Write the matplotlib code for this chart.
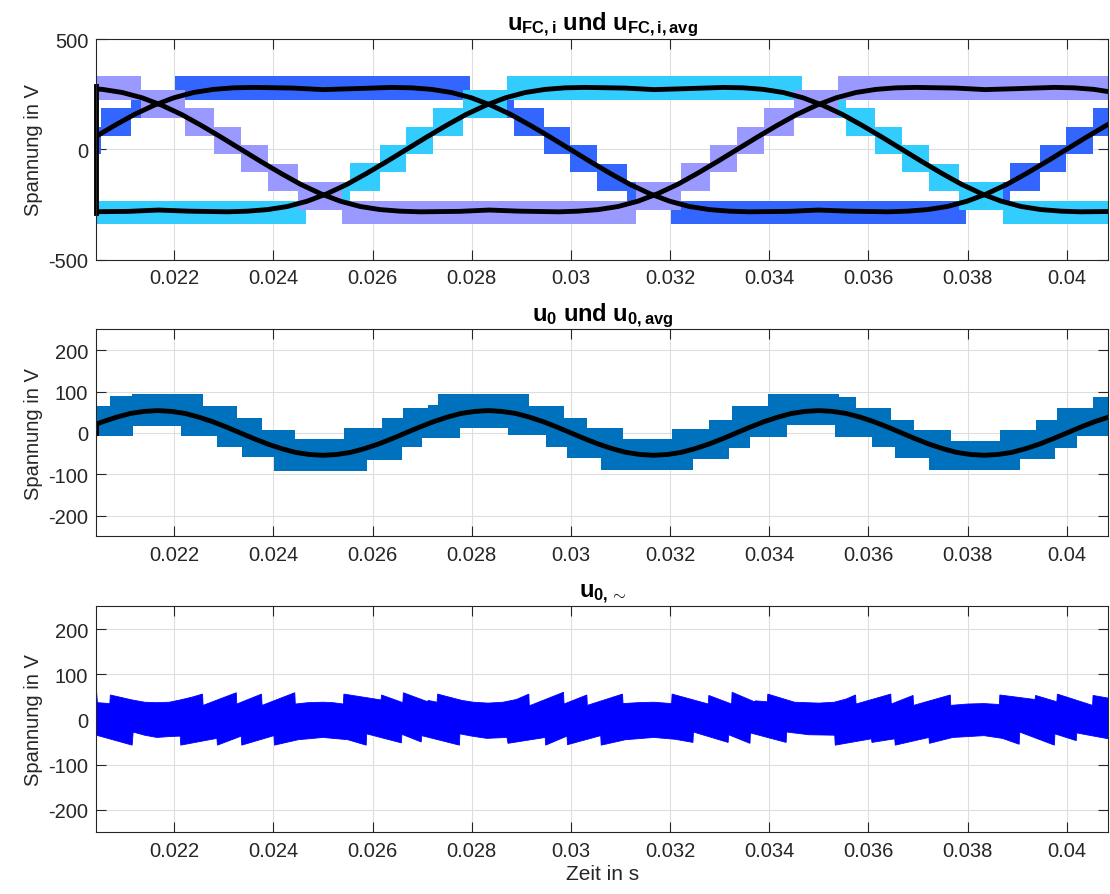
import numpy as np
import matplotlib
matplotlib.use('Agg')
import matplotlib.pyplot as plt
from matplotlib import font_manager


# ---------------- data ----------------

# visible time window and x ticks
t_view = [0.02043, 0.04084]
x_ticks = [0.022, 0.024, 0.026, 0.028, 0.030, 0.032, 0.034, 0.036, 0.038, 0.040]

# flying capacitor voltages: one 50 Hz period of the switched band,
# times relative to the rising zero crossing of each phase
fc_period = 0.02
fc_rise = [0.01999, 0.02668, 0.03335]
fc_colors = ['#3366FF', '#33CCFF', '#9999FF']
fc_edges = [-0.00203, -0.00114, -0.00054, 0.0, 0.00054, 0.00114, 0.00203,
            0.00797, 0.00886, 0.00946, 0.01, 0.01054, 0.01114, 0.01203, 0.01797]
fc_lo = [-272, -187, -103, -22, 63, 143, 224, 143, 63, -22, -102, -190, -272, -336]
fc_hi = [-148, -63, 21, 102, 187, 267, 332, 267, 187, 102, 22, -66, -148, -232]

# averaged capacitor voltage over one period (relative to rising zero crossing)
fc_avg_t = [0, .0004, .0008, .0012, .0016, .0020, .0024, .0028, .0032, .0036,
            .0044, .0050, .0056, .0064, .0068, .0072, .0076, .0080, .0084, .0088,
            .0092, .0096, .0100, .0104, .0108, .0112, .0116, .0120, .0124, .0128,
            .0132, .0136, .0144, .0150, .0156, .0164, .0168, .0172, .0176, .0180,
            .0184, .0188, .0192, .0196, .0200]
fc_avg_v = [0, 55, 108, 158, 200, 234, 258, 272, 279, 281,
            278, 271, 275, 281, 279, 272, 258, 234, 200, 158,
            108, 55, 0, -55, -108, -158, -200, -234, -258, -272,
            -279, -282, -280, -274, -279, -282, -279, -272, -258, -234,
            -200, -158, -108, -55, 0]
fc_avg_init = [286, -286]

# u0 switched band: upper and lower envelope (step values)
u0_up_t = [0.02043, 0.02071, 0.02115, 0.02258, 0.02326, 0.02377, 0.02444, 0.02542,
           0.02618, 0.02662, 0.02712, 0.02731, 0.02916, 0.02986, 0.03033, 0.03105,
           0.03204, 0.03278, 0.03325, 0.03397, 0.03541, 0.03575, 0.03646, 0.03691,
           0.03766, 0.03865, 0.03937, 0.03981, 0.04053]
u0_up_v = [66, 89, 94, 64, 36, 8, -14, 11,
           35, 60, 68, 93, 64, 35, 11, -14,
           10, 32, 64, 94, 88, 60, 32, 7,
           -20, 7, 32, 60, 86]
u0_lo_t = [0.02043, 0.02117, 0.02213, 0.02287, 0.02336, 0.02402, 0.02588, 0.02659,
           0.02699, 0.02776, 0.02873, 0.02949, 0.02993, 0.03061, 0.03247, 0.03318,
           0.03362, 0.03435, 0.03533, 0.03607, 0.03654, 0.03723, 0.03905, 0.03976,
           0.04020]
u0_lo_v = [-8, 16, -8, -35, -59, -93, -65, -35,
           -12, 12, -5, -35, -60, -89, -62, -36,
           -10, 18, -10, -35, -60, -89, -62, -36,
           -8]

# u0 average (150 Hz), one period sampled in 24 steps
u0_period = 0.006667
u0_rise = 0.02000
u0_avg_v = [0, 14, 27, 38, 47, 52, 54, 52, 47, 38, 27, 14,
            0, -14, -27, -38, -47, -52, -54, -52, -47, -38, -27, -14, 0]
u0_avg_init = [0, 21]

# ripple u0,~ : upper and lower envelope
u0ac_up_t = [0.02043, 0.02045, 0.02070, 0.02071, 0.02115, 0.02140, 0.02165, 0.02190, 0.02212, 0.02235,
             0.02257, 0.02258, 0.02325, 0.02326, 0.02376, 0.02377, 0.02443, 0.02444, 0.02470, 0.02500,
             0.02520, 0.02541, 0.02542, 0.02617, 0.02618, 0.02661, 0.02662, 0.02711, 0.02712, 0.02730,
             0.02731, 0.02780, 0.02803, 0.02833, 0.02863, 0.02890, 0.02915, 0.02916, 0.02985, 0.02986,
             0.03032, 0.03033, 0.03104, 0.03105, 0.03135, 0.03167, 0.03203, 0.03204, 0.03277, 0.03278,
             0.03324, 0.03325, 0.03370, 0.03372, 0.03396, 0.03397, 0.03451, 0.03500, 0.03531, 0.03555,
             0.03574, 0.03575, 0.03645, 0.03646, 0.03690, 0.03691, 0.03765, 0.03766, 0.03800, 0.03833,
             0.03864, 0.03865, 0.03936, 0.03937, 0.03980, 0.03981, 0.04052, 0.04053, 0.04084]
u0ac_up_v = [64, 37, 35, 54, 43, 38, 37, 38, 43, 49,
             56, 31, 59, 34, 56, 31, 59, 34, 37, 38,
             37, 34, 56, 43, 54, 37, 59, 39, 42, 38,
             56, 42, 38, 36, 38, 44, 56, 30, 60, 34,
             54, 31, 56, 35, 37, 38, 35, 56, 34, 53,
             34, 60, 39, 41, 39, 56, 38, 36, 38, 45,
             54, 34, 56, 34, 53, 31, 54, 31, 34, 35,
             33, 54, 44, 53, 39, 56, 31, 53, 47]
u0ac_lo_t = [0.02043, 0.02115, 0.02117, 0.02140, 0.02165, 0.02190, 0.02212, 0.02213, 0.02286, 0.02287,
             0.02335, 0.02336, 0.02401, 0.02402, 0.02450, 0.02500, 0.02550, 0.02587, 0.02588, 0.02658,
             0.02659, 0.02698, 0.02699, 0.02775, 0.02776, 0.02800, 0.02830, 0.02871, 0.02873, 0.02948,
             0.02949, 0.02992, 0.02993, 0.03060, 0.03061, 0.03110, 0.03167, 0.03210, 0.03246, 0.03247,
             0.03317, 0.03318, 0.03361, 0.03362, 0.03434, 0.03435, 0.03480, 0.03532, 0.03533, 0.03606,
             0.03607, 0.03653, 0.03654, 0.03722, 0.03723, 0.03770, 0.03833, 0.03870, 0.03904, 0.03905,
             0.03975, 0.03976, 0.04019, 0.04020, 0.04084]
u0ac_lo_v = [-35, -57, -28, -35, -40, -38, -37, -57, -42, -57,
             -37, -57, -36, -57, -45, -40, -45, -57, -32, -52,
             -33, -50, -36, -57, -32, -37, -42, -40, -53, -40,
             -57, -37, -56, -36, -57, -45, -40, -44, -51, -28,
             -51, -34, -53, -30, -51, -28, -34, -35, -57, -43,
             -51, -43, -57, -40, -53, -40, -36, -42, -55, -28,
             -57, -32, -47, -30, -43]


# ---------------- fonts ----------------

installed = {f.name for f in font_manager.fontManager.ttflist}
fam = 'Liberation Sans Narrow' if 'Liberation Sans Narrow' in installed else 'Liberation Sans'
plt.rcParams['font.family'] = [fam, 'DejaVu Sans']
plt.rcParams['mathtext.fontset'] = 'custom'
plt.rcParams['mathtext.rm'] = fam
plt.rcParams['mathtext.it'] = fam + ':italic'
plt.rcParams['mathtext.bf'] = fam + ':bold'
plt.rcParams['axes.unicode_minus'] = False

txt_color = '#262626'


def tile_band(start):
    # repeat the one-period band over the window
    t, lo, hi = [], [], []
    for k in range(-1, 2):
        off = start + k * fc_period
        t += [e + off for e in fc_edges[:-1]]
        lo += fc_lo
        hi += fc_hi
    t.append(fc_edges[-1] + start + fc_period)
    lo.append(fc_lo[-1])
    hi.append(fc_hi[-1])
    return t, lo, hi


def tile_curve(start, t_rel, v, period, ks):
    t, y = [], []
    for k in ks:
        t += [x + start + k * period for x in t_rel[:-1]]
        y += v[:-1]
    t.append(t_rel[-1] + start + ks[-1] * period)
    y.append(v[-1])
    return t, y


def step_xy(t, v, t_end):
    xs = list(np.repeat(t, 2)[1:]) + [t_end]
    ys = list(np.repeat(v, 2))
    return xs, ys


def style_axes(ax, ylim, yticks, title):
    ax.set_xlim(t_view)
    ax.set_ylim(ylim)
    ax.set_xticks(x_ticks)
    ax.set_xticklabels(['%g' % v for v in x_ticks])
    ax.set_yticks(yticks)
    ax.grid(True, color='#DEDEDE', linewidth=0.8)
    ax.set_axisbelow(True)
    ax.tick_params(direction='in', length=7, width=0.8, top=True, right=True,
                   colors=txt_color, labelsize=14.5, pad=6)
    for s in ax.spines.values():
        s.set_color(txt_color)
        s.set_linewidth(0.8)
    ax.set_ylabel('Spannung in V', fontsize=14.5, color=txt_color, labelpad=4)
    ax.set_title(title, fontsize=17, fontweight='bold', color='black', pad=7)


fig = plt.figure(figsize=(11.1, 8.95), dpi=100)

# --- capacitor voltages ---
ax1 = fig.add_axes([0.0869, 0.7084, 0.9117, 0.2469])
for start, c in zip(fc_rise, fc_colors):
    t, lo, hi = tile_band(start)
    ax1.fill_between(t, lo, hi, step='post', color=c, linewidth=0)
for start in fc_rise:
    t, y = tile_curve(start, fc_avg_t, fc_avg_v, fc_period, [-1, 0, 1])
    ax1.plot(t, y, color='black', linewidth=3.5, solid_capstyle='butt')
ax1.plot([t_view[0], t_view[0]], fc_avg_init, color='black', linewidth=3.5, clip_on=False)
style_axes(ax1, [-500, 500], [-500, 0, 500],
           r'$\mathbf{u_{FC,i}}$ und $\mathbf{u_{FC,i,avg}}$')

# --- u0 with average ---
ax2 = fig.add_axes([0.0869, 0.3995, 0.9117, 0.2313])
ux, uy = step_xy(u0_up_t, u0_up_v, t_view[1])
lx, ly = step_xy(u0_lo_t, u0_lo_v, t_view[1])
ax2.fill(ux + lx[::-1], uy + ly[::-1], color='#0072BD', linewidth=0)
u0_t_rel = list(np.linspace(0, u0_period, len(u0_avg_v)))
t, y = tile_curve(u0_rise, u0_t_rel, u0_avg_v, u0_period, [-1, 0, 1, 2, 3])
ax2.plot(t, y, color='black', linewidth=3.5)
ax2.plot([t_view[0], t_view[0]], u0_avg_init, color='black', linewidth=3.5)
style_axes(ax2, [-250, 250], [-200, -100, 0, 100, 200],
           r'$\mathbf{u_{0}}$ und $\mathbf{u_{0,avg}}$')

# --- ripple part ---
ax3 = fig.add_axes([0.0869, 0.0689, 0.9117, 0.2524])
ax3.fill(u0ac_up_t + u0ac_lo_t[::-1], u0ac_up_v + u0ac_lo_v[::-1],
         color='#0000FF', linewidth=0.6, edgecolor='#0000FF')
style_axes(ax3, [-250, 250], [-200, -100, 0, 100, 200], r'$\mathbf{u_{0,\sim}}$')
ax3.set_xlabel('Zeit in s', fontsize=15, color=txt_color, labelpad=3)

fig.savefig('out.png', dpi=100)
